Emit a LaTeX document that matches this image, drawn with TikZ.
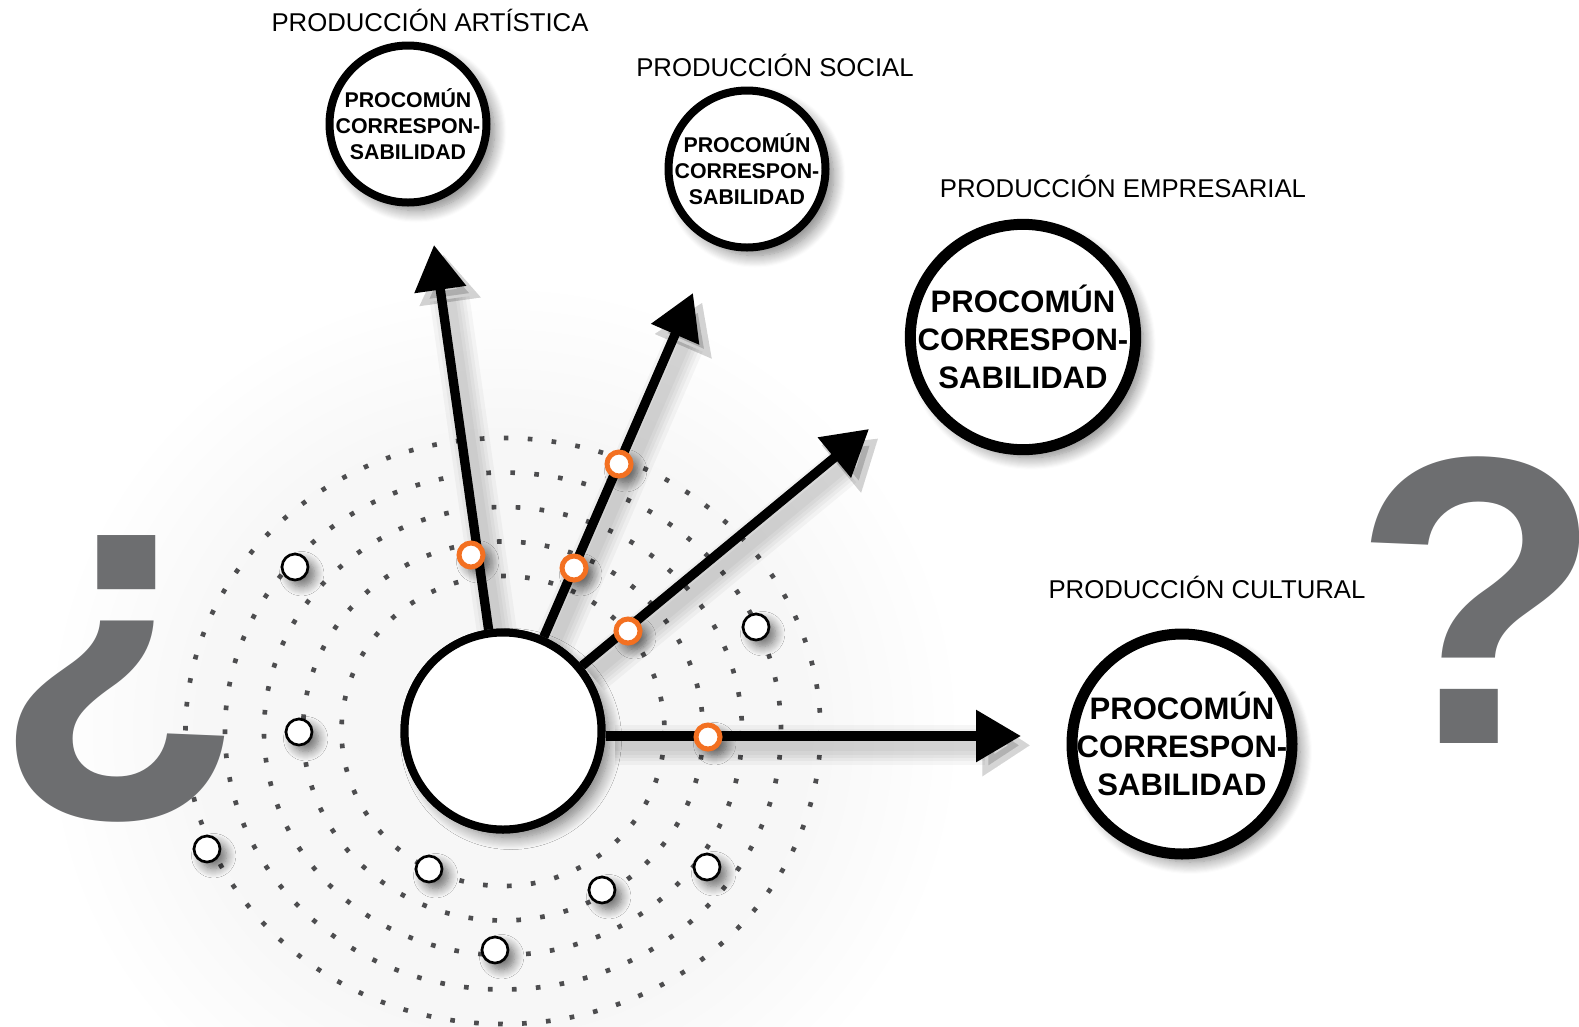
\documentclass[tikz,border=0pt]{standalone}
\usepackage{fontspec}
\setmainfont{Liberation Sans}
\usetikzlibrary{arrows.meta,shadows.blur}
\definecolor{qgray}{HTML}{6D6E70}
\definecolor{dotgray}{HTML}{4D4D4F}
\definecolor{orng}{HTML}{F37021}
\pgfdeclareradialshading{ringbg}{\pgfpoint{0bp}{0bp}}{color(0bp)=(black!3.5); color(16bp)=(black!3); color(24bp)=(white); color(50bp)=(white)}
\begin{document}
\begin{tikzpicture}[x=0.75pt,y=-0.75pt,
  shd/.style={blur shadow={shadow xshift=6pt,shadow yshift=-6pt,shadow blur radius=9pt,shadow opacity=50,shadow blur steps=12}},
  procsmall/.style={circle,draw=black,fill=white,line width=6pt,minimum size=117.75pt,inner sep=0pt,shd},
  procbig/.style={circle,draw=black,fill=white,line width=8.25pt,minimum size=166pt,inner sep=0pt,shd},
  txtsmall/.style={align=center,inner sep=0pt,font=\fontsize{16pt}{19.5pt}\selectfont\bfseries},
  txtbig/.style={align=center,inner sep=0pt,font=\fontsize{23.3pt}{28.5pt}\selectfont\bfseries},
  lbl/.style={font=\fontsize{19.3pt}{22pt}\selectfont,anchor=base,inner sep=0pt},
  ring/.style={draw=dotgray,line width=3.5pt,dash pattern=on 3.5pt off 14.5pt},
  hub/.style={circle,draw=black,fill=white,line width=6pt,minimum size=147.75pt,inner sep=0pt},
  sat/.style={circle,draw=black,fill=white,line width=2pt,minimum size=19.5pt,inner sep=0pt,
    blur shadow={shadow xshift=5pt,shadow yshift=-5pt,shadow blur radius=7pt,shadow opacity=55,shadow blur steps=10}},
  hit/.style={circle,draw=orng,fill=white,line width=3.75pt,minimum size=18pt,inner sep=0pt,
    blur shadow={shadow xshift=5pt,shadow yshift=-5pt,shadow blur radius=7pt,shadow opacity=55,shadow blur steps=10}},
  arr/.style={line width=7pt,-{Triangle[length=33.75pt,width=37.5pt]}},
  arrshd/.style={draw=black,opacity=0.035,-{Triangle[length=36pt,width=44pt]},transform canvas={shift={(7pt,-7pt)}}},
  qmark/.style={text=qgray,font=\fontsize{308pt}{308pt}\selectfont\bfseries,inner sep=0pt}
]
\useasboundingbox (0,0) rectangle (1579,1026);

% soft background behind the rings
\shade[shading=ringbg] (503,731) ellipse [x radius=480, y radius=470];

% dotted rings
\foreach \rx/\ry in {161.5/155,200/189.5,239/224,278/258.5,317.5/293}
  \draw[ring] (503,731) ellipse [x radius=\rx, y radius=\ry];

% coordinates of arrow tips
\coordinate (tA) at (434,245);
\coordinate (tS) at (693,293);
\coordinate (tE) at (869,429);
\coordinate (tC) at (1021,736);

% hub (its shadow first)
\node[hub,shd] (hub) at (503,731) {};

% arrow shadows (soft, layered)
\foreach \w in {30pt,24pt,19pt,14pt,9pt}{
  \draw[arrshd,line width=\w] (hub) -- (tA);
  \draw[arrshd,line width=\w] (hub) -- (tS);
  \draw[arrshd,line width=\w] (hub) -- (tE);
  \draw[arrshd,line width=\w] ([yshift=-3.75pt]hub.east) -- (tC);
}

% arrows
\draw[arr] (hub) -- (tA);
\draw[arr] (hub) -- (tS);
\draw[arr] (hub) -- (tE);
\draw[arr] ([yshift=-3.75pt]hub.east) -- (tC);
\node[hub] (hubtop) at (503,731) {};

% satellites
\node[sat] (s1) at (295,567) {};
\node[sat] (s2) at (299,732) {};
\node[sat] (s3) at (207,849) {};
\node[sat] (s4) at (429,869) {};
\node[sat] (s5) at (602,890) {};
\node[sat] (s6) at (707,867) {};
\node[sat] (s7) at (495,950) {};
\node[sat] (s8) at (756,627) {};

% orange crossings
\node[hit] (h1) at (471,555) {};
\node[hit] (h2) at (574,568) {};
\node[hit] (h3) at (619,464) {};
\node[hit] (h4) at (628,631) {};
\node[hit] (h5) at (708,737) {};

% target circles
\node[procsmall] (A) at (408,124) {};
\node[txtsmall] (At) at (408,124) {PROCOMÚN\\CORRESPON-\\SABILIDAD};
\node[procsmall] (S) at (747,169) {};
\node[txtsmall] (St) at (747,169) {PROCOMÚN\\CORRESPON-\\SABILIDAD};
\node[procbig,minimum size=169pt] (E) at (1023,337) {};
\node[txtbig] (Et) at (1023,337) {PROCOMÚN\\CORRESPON-\\SABILIDAD};
\node[procbig,minimum size=165pt] (C) at (1182,744) {};
\node[txtbig] (Ct) at (1182,744) {PROCOMÚN\\CORRESPON-\\SABILIDAD};

% labels
\node[lbl] (lA) at (430,31) {PRODUCCIÓN ARTÍSTICA};
\node[lbl] (lS) at (775,76) {PRODUCCIÓN SOCIAL};
\node[lbl] (lE) at (1123,197) {PRODUCCIÓN EMPRESARIAL};
\node[lbl] (lC) at (1207,598) {PRODUCCIÓN CULTURAL};

% question marks
\node[qmark,inner xsep=-18pt] (qo) at (119,679) {¿};
\node[qmark,inner xsep=-18pt] (qc) at (1478,600) {?};
\end{tikzpicture}
\end{document}
